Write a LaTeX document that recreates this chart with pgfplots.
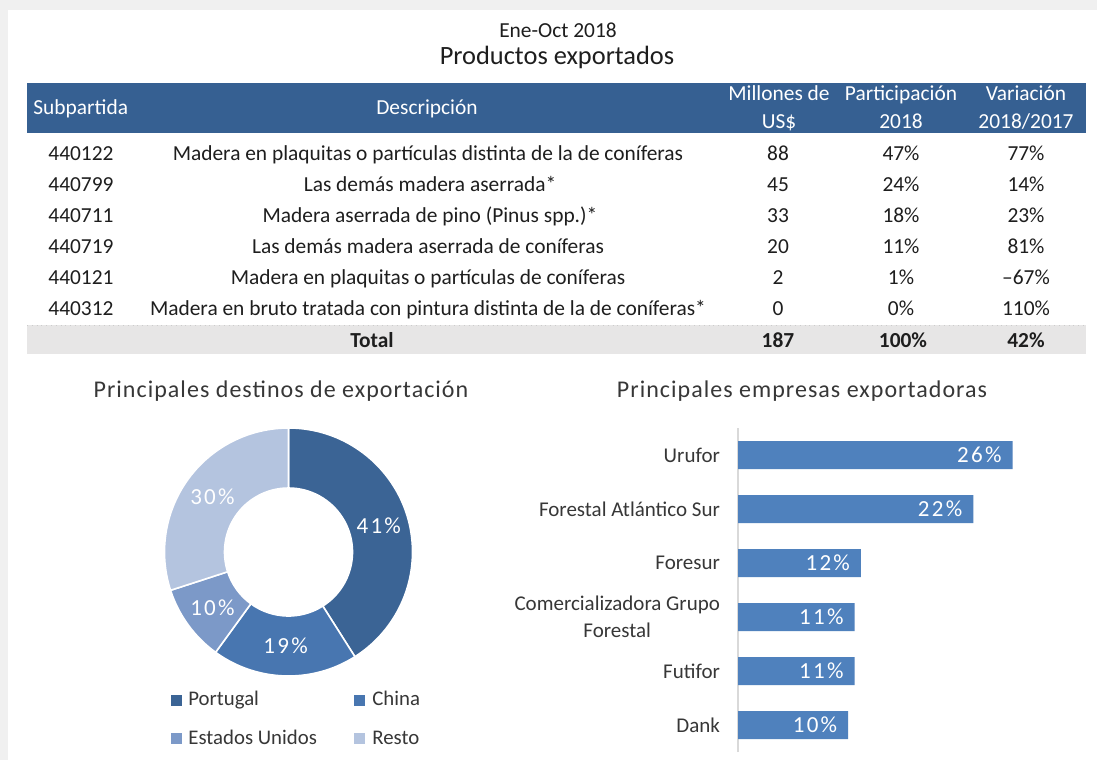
\documentclass[border=0pt]{standalone}
\usepackage{pgfplots}
\pgfplotsset{compat=1.18}
\usepackage{pgfplotstable}
\usepackage{fontspec}
\setmainfont{Carlito}
\newfontfamily\spaced[LetterSpace=4.3]{Carlito}
\newfontfamily\wide[LetterSpace=10]{Carlito}

\definecolor{bggray}{RGB}{240,240,240}
\definecolor{headblue}{RGB}{54,96,146}
\definecolor{totgray}{RGB}{231,230,230}
\definecolor{txt}{RGB}{30,30,30}
\definecolor{txtgray}{RGB}{55,55,55}
\definecolor{barblue}{RGB}{79,129,189}
\definecolor{cPortugal}{RGB}{59,100,149}
\definecolor{cChina}{RGB}{72,118,176}
\definecolor{cEEUU}{RGB}{124,153,200}
\definecolor{cResto}{RGB}{180,196,223}

% destinos de exportacion (%)
\pgfplotstableread{
pais share
Portugal 41
China 19
EEUU 10
Resto 30
}\destinos

\begin{document}
\begin{tikzpicture}
\useasboundingbox (0,0) rectangle (548.5pt,-380pt);
\begin{scope}[x=0.5pt,y=-0.5pt]
  \fill[bggray] (0,0) rectangle (1097,760);
  \fill[white] (8,10) rectangle (1097,760);
  % table
  \fill[headblue] (27,83) rectangle (1086,133);
  \fill[totgray] (27,325) rectangle (1086,354);
  \draw[black!20,dotted] (27,325) -- (1086,325);
  \begin{scope}[every node/.style={inner sep=0pt,anchor=base,font=\fontsize{10.7}{12}\selectfont,text=txt}]
    \node at (558,37) {Ene-Oct 2018};
    \node[font=\fontsize{13.2}{15}\selectfont] at (557,64) {Productos exportados};
    \begin{scope}[every node/.append style={text=white}]
      \node[anchor=base west] at (33,114) {Subpartida};
      \node at (427,114) {Descripción};
      \node at (779,100) {Millones de};
      \node at (779,128) {US\$};
      \node at (901,100) {Participación};
      \node at (901,128) {2018};
      \node at (1026,100) {Variación};
      \node at (1026,128) {2018/2017};
    \end{scope}
    \node[anchor=base west] at (48,160) {440122};
    \node[anchor=base west] at (48,191) {440799};
    \node[anchor=base west] at (48,222) {440711};
    \node[anchor=base west] at (48,253) {440719};
    \node[anchor=base west] at (48,284) {440121};
    \node[anchor=base west] at (48,315) {440312};
    \node at (428,160) {Madera en plaquitas o partículas distinta de la de coníferas};
    \node at (430,191) {Las demás madera aserrada*};
    \node at (430,222) {Madera aserrada de pino (Pinus spp.)*};
    \node at (428,253) {Las demás madera aserrada de coníferas};
    \node at (428,284) {Madera en plaquitas o partículas de coníferas};
    \node at (428,315) {Madera en bruto tratada con pintura distinta de la de coníferas*};
    \node at (778,160) {88};
    \node at (778,191) {45};
    \node at (778,222) {33};
    \node at (778,253) {20};
    \node at (778,284) {2};
    \node at (778,315) {0};
    \node at (901,160) {47\%};
    \node at (901,191) {24\%};
    \node at (901,222) {18\%};
    \node at (901,253) {11\%};
    \node at (901,284) {1\%};
    \node at (901,315) {0\%};
    \node at (1026,160) {77\%};
    \node at (1026,191) {14\%};
    \node at (1026,222) {23\%};
    \node at (1026,253) {81\%};
    \node at (1026,284) {--67\%};
    \node at (1026,315) {110\%};
    \node[font=\fontsize{10.7}{12}\bfseries] at (372,347) {Total};
    \node[font=\fontsize{10.7}{12}\bfseries] at (778,347) {187};
    \node[font=\fontsize{10.7}{12}\bfseries] at (903,347) {100\%};
    \node[font=\fontsize{10.7}{12}\bfseries] at (1026,347) {42\%};
  \end{scope}
  % chart titles
  \node[inner sep=0pt,anchor=base,text=txtgray,font=\spaced\fontsize{12}{14}\selectfont] at (281,397) {Principales destinos de exportación};
  \node[inner sep=0pt,anchor=base,text=txtgray,font=\spaced\fontsize{12}{14}\selectfont] at (802,397) {Principales empresas exportadoras};
  % donut legend
  \begin{scope}[every node/.style={inner sep=0pt,anchor=base west,text=txtgray,font=\fontsize{10.4}{12}\selectfont}]
    \fill[cPortugal] (171,694.5) rectangle (182,705.5);
    \node at (188,705) {Portugal};
    \fill[cChina] (354,694.5) rectangle (365,705.5);
    \node at (372,705) {China};
    \fill[cEEUU] (171,733) rectangle (182,744);
    \node at (188,744) {Estados Unidos};
    \fill[cResto] (354,733) rectangle (365,744);
    \node at (372,744) {Resto};
  \end{scope}
\end{scope}

% donut chart
\begin{axis}[at={(144.25pt,-276pt)}, anchor=center, scale only axis,
  width=124pt, height=124pt, xmin=-62, xmax=62, ymin=-62, ymax=62,
  hide axis, clip=false]
  \pgfplotsextra{%
    \gdef\angA{90}%
    \pgfplotstableforeachcolumnelement{share}\of\destinos\as\v{%
      \pgfplotstablegetelem{\pgfplotstablerow}{pais}\of\destinos
      \edef\col{c\pgfplotsretval}%
      \pgfmathsetmacro\angB{\angA-3.6*\v}%
      \pgfmathsetmacro\angM{(\angA+\angB)/2}%
      \filldraw[fill=\col,draw=white,line width=0.8pt]
        (axis cs:{62*cos(\angA)},{62*sin(\angA)})
        arc[start angle=\angA,end angle=\angB,radius=62pt]
        -- (axis cs:{32*cos(\angB)},{32*sin(\angB)})
        arc[start angle=\angB,end angle=\angA,radius=32pt] -- cycle;
      \node[text=white,font=\wide\fontsize{11.5}{13}\selectfont,inner sep=0pt]
        at (axis cs:{47*cos(\angM)},{47*sin(\angM)}) {\v\%};
      \xdef\angA{\angB}%
    }%
  }
\end{axis}

% bar chart
\begin{axis}[at={(369pt,-376pt)}, anchor=south west, scale only axis,
  width=159pt, height=162pt, xbar, bar width=14pt,
  xmin=0, xmax=30, ymin=-0.5, ymax=5.5, clip=false,
  axis x line=none, axis y line*=left,
  y axis line style={draw=black!15,line width=0.8pt},
  ytick={0,...,5}, major tick length=0pt,
  yticklabels={Dank,Futifor,{Comercializadora Grupo\\Forestal},Foresur,{Forestal Atlántico Sur},Urufor},
  y tick label style={font=\fontsize{10.5}{13.5}\selectfont,text=txtgray,align=center,xshift=-5.5pt},
  nodes near coords, point meta=explicit symbolic,
  nodes near coords style={anchor=east,text=white,font=\wide\fontsize{11.5}{13}\selectfont,xshift=-2pt}]
  \addplot[fill=barblue,draw=none] coordinates {
    (10.4,0)[10\%]
    (11.0,1)[11\%]
    (11.0,2)[11\%]
    (11.6,3)[12\%]
    (22.2,4)[22\%]
    (25.9,5)[26\%]};
\end{axis}
\end{tikzpicture}
\end{document}
